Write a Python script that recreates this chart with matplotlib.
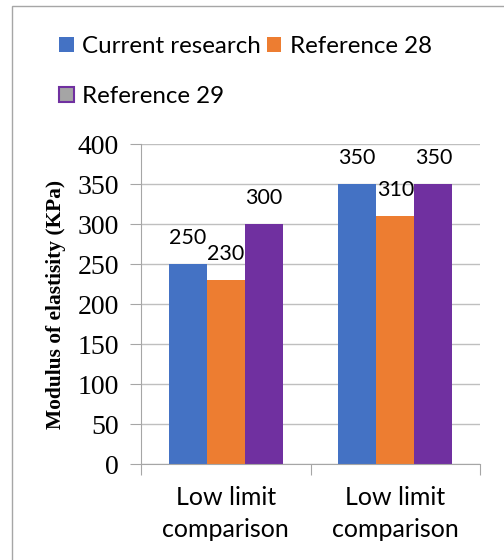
import matplotlib
matplotlib.use("Agg")
import matplotlib.pyplot as plt
from matplotlib.patches import Rectangle, Patch
import numpy as np

categories = ["Low limit\ncomparison", "Low limit\ncomparison"]
series_names = ["Current research", "Reference 28", "Reference 29"]
current_research = [250, 350]
reference_28 = [230, 310]
reference_29 = [300, 350]
yticks = [0, 50, 100, 150, 200, 250, 300, 350, 400]

colors = ["#4472C4", "#ED7D31", "#7030A0"]
sans = "Lato"
serif = "Liberation Serif"

fig = plt.figure(figsize=(5.04, 5.6), dpi=100)
ax = fig.add_axes([141/504, 1-464/560, (480-141)/504, (464-144)/560])

# outer frame
fig.patches.append(Rectangle((12/504, -0.1), 1.0, 1 - 6/560 + 0.1, transform=fig.transFigure,
                             fill=False, edgecolor="#A6A6A6", linewidth=1.0))

x = np.arange(len(categories))
w = 0.225
series = [current_research, reference_28, reference_29]
for i, (vals, c, name) in enumerate(zip(series, colors, series_names)):
    bars = ax.bar(x + (i - 1) * w, vals, width=w, color=c, zorder=2, label=name)
    for b, v in zip(bars, vals):
        ax.text(b.get_x() + b.get_width() / 2, v + 20, f"{v}", ha="center", va="bottom",
                fontsize=15.5, family=sans, color="black", zorder=3)

ax.set_xlim(-0.5, 1.5)
ax.set_ylim(0, 400)
ax.set_yticks(yticks)
ax.set_yticklabels([str(t) for t in yticks], family=serif, fontsize=20)
ax.yaxis.grid(True, color="#BFBFBF", linewidth=1.0, zorder=0)
ax.set_axisbelow(True)
for s in ["top", "right"]:
    ax.spines[s].set_visible(False)
ax.spines["left"].set_color("#A6A6A6")
ax.spines["bottom"].set_color("#A6A6A6")
ax.tick_params(axis="y", length=8, color="#A6A6A6", pad=8)
ax.set_xticks([-0.5, 0.5, 1.5])
ax.set_xticklabels([])
ax.tick_params(axis="x", length=8, color="#A6A6A6")
for xi, lab in zip(x, categories):
    ax.text(xi, -27, lab, ha="center", va="top", fontsize=18, family=sans,
            linespacing=1.5, transform=ax.transData)

ax.set_ylabel("Modulus of elastisity (KPa)", family=serif, fontweight="bold", fontsize=15.4, labelpad=8)

handles = [Patch(facecolor=colors[0]), Patch(facecolor="#A5A5A5", edgecolor=colors[2], linewidth=1.5),
           Patch(facecolor=colors[1])]
labels = [series_names[0], series_names[2], series_names[1]]
leg = fig.legend(handles, labels, ncol=2, loc="upper left", bbox_to_anchor=(47/504, 1-24/560),
                 frameon=False, prop={"family": sans, "size": 17.4}, handlelength=0.6,
                 handleheight=0.6, handletextpad=0.35, columnspacing=0.25, labelspacing=1.2,
                 borderpad=0)

fig.savefig("out.png", dpi=100)
